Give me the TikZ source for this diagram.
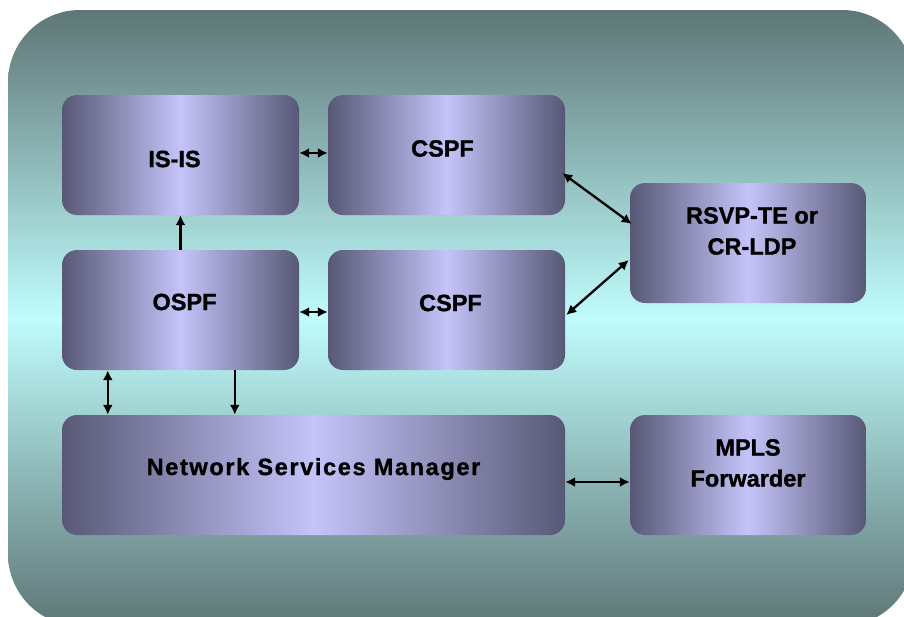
\documentclass[tikz,border=0pt]{standalone}
\usepackage{fontspec}
\setmainfont{Liberation Sans}[BoldFeatures={FakeBold=1.2}]
\newfontfamily\nsmfont{Liberation Sans}[LetterSpace=7,BoldFeatures={FakeBold=1.2}]
\usetikzlibrary{arrows.meta,calc}

\definecolor{bgdark}{RGB}{94,118,118}
\definecolor{bglight}{RGB}{192,252,252}
\definecolor{boxdark}{RGB}{88,88,118}
\definecolor{boxlight}{RGB}{196,196,250}

\begin{document}
\begin{tikzpicture}[x=1pt,y=-1pt,
  box/.style={rectangle, rounded corners=15pt, inner sep=0pt, draw=none,
    left color=boxdark, right color=boxdark, middle color=boxlight,
    minimum height=120pt},
  lbl/.style={font=\fontsize{23.5}{31}\selectfont\bfseries, align=center, text=black},
  tipL/.tip={Latex[length=10pt,width=10pt]},
  link/.style={line width=2.3pt, draw=black, tipL-tipL},
  one/.style={line width=2.3pt, draw=black, -tipL}]

\useasboundingbox (0,0) rectangle (904,616);
\begin{scope}
  \clip (0,0) rectangle (904,616);
  \shade[top color=bgdark, bottom color=bgdark, middle color=bglight, rounded corners=72pt]
    (8,10) rectangle (914,626);
\end{scope}

\node[box, minimum width=237pt, label={[lbl,yshift=-4pt,xshift=-6pt]center:IS-IS}] (isis) at (180.5,155) {};
\node[box, minimum width=237pt, label={[lbl,yshift=6.5pt,xshift=-4pt]center:CSPF}] (cspf1) at (446.5,155) {};
\node[box, minimum width=237pt, label={[lbl,yshift=8pt,xshift=4pt]center:OSPF}] (ospf) at (180.5,310) {};
\node[box, minimum width=237pt, label={[lbl,yshift=7pt,xshift=4pt]center:CSPF}] (cspf2) at (446.5,310) {};
\node[box, minimum width=236pt, label={[lbl,yshift=12pt,xshift=4pt]center:RSVP-TE or\\CR-LDP}] (rsvp) at (748,243) {};
\node[box, minimum width=503pt, label={[lbl,yshift=6pt]center:{\nsmfont\bfseries Network Services Manager}}] (nsm) at (313.5,475) {};
\node[box, minimum width=236pt, label={[lbl,yshift=12pt]center:MPLS\\Forwarder}] (mpls) at (748,475) {};

\draw[link] ($(isis.east)+(0,-2)$) -- ($(cspf1.west)+(0,-2)$);
\draw[link] ($(ospf.east)+(0,2)$) -- ($(cspf2.west)+(0,2)$);
\draw[one] (ospf.north) -- (isis.south);
\draw[link] ($(cspf1.east)+(-3,18)$) -- ($(rsvp.west)+(2,-19)$);
\draw[link] ($(cspf2.east)+(1,5)$) -- ($(rsvp.west)+(-1,17)$);
\draw[link] ($(ospf.south west)+(46,0)$) -- ($(nsm.north west)+(46,0)$);
\draw[one] ($(ospf.south west)+(173,0)$) -- ($(nsm.north west)+(173,0)$);
\draw[link] ($(nsm.east)+(0,7)$) -- ($(mpls.west)+(0,7)$);
\end{tikzpicture}
\end{document}
